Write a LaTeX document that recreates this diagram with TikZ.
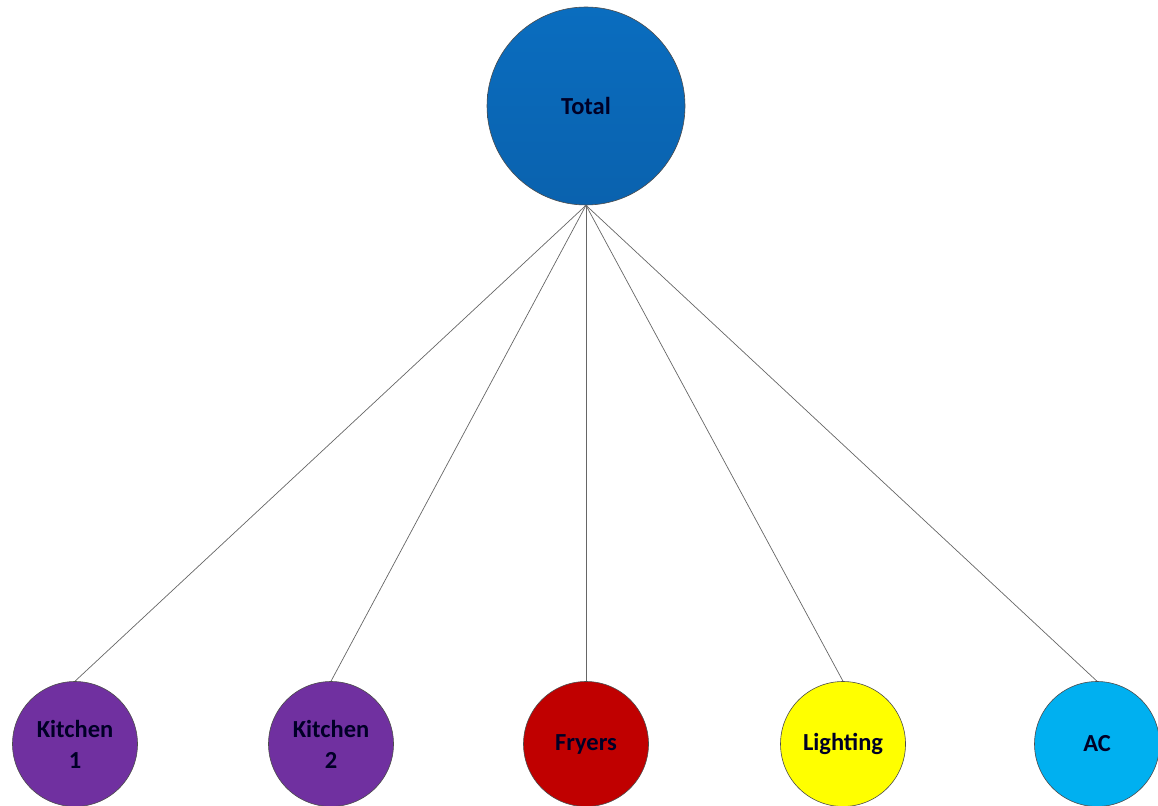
\documentclass[tikz,border=0pt]{standalone}
\usepackage{fontspec}
\setmainfont{Carlito}
\begin{document}
\begin{tikzpicture}[x=1pt,y=-1pt,
  bubble/.style={circle,draw=black!70,line width=0.6pt,inner sep=0pt,
    font=\fontsize{24.5}{31}\selectfont\bfseries,text=black!85!blue,align=center},
  link/.style={draw=black!60,line width=0.7pt}]
\useasboundingbox (0,0) rectangle (1158,805);
\definecolor{cTotal}{HTML}{0A6DBF}
\definecolor{cTotalB}{HTML}{0A62AE}
\definecolor{cPurple}{HTML}{7030A0}
\definecolor{cRed}{HTML}{C00000}
\definecolor{cYellow}{HTML}{FFFF00}
\definecolor{cSky}{HTML}{00B0F0}
\node[bubble,top color=cTotal,bottom color=cTotalB,minimum size=198pt] (total) at (586,106) {Total};
\node[bubble,fill=cPurple,minimum size=125pt] (k1) at (75,744) {Kitchen\\1};
\node[bubble,fill=cPurple,minimum size=125pt] (k2) at (331,744) {Kitchen\\2};
\node[bubble,fill=cRed,minimum size=125pt] (fr) at (586,744) {Fryers};
\node[bubble,fill=cYellow,minimum size=125pt] (li) at (843,744) {Lighting};
\node[bubble,fill=cSky,minimum size=125pt] (ac) at (1097,744) {AC};
\foreach \n in {k1,k2,fr,li,ac} \draw[link] (total.south) -- (\n.north);
\end{tikzpicture}
\end{document}
